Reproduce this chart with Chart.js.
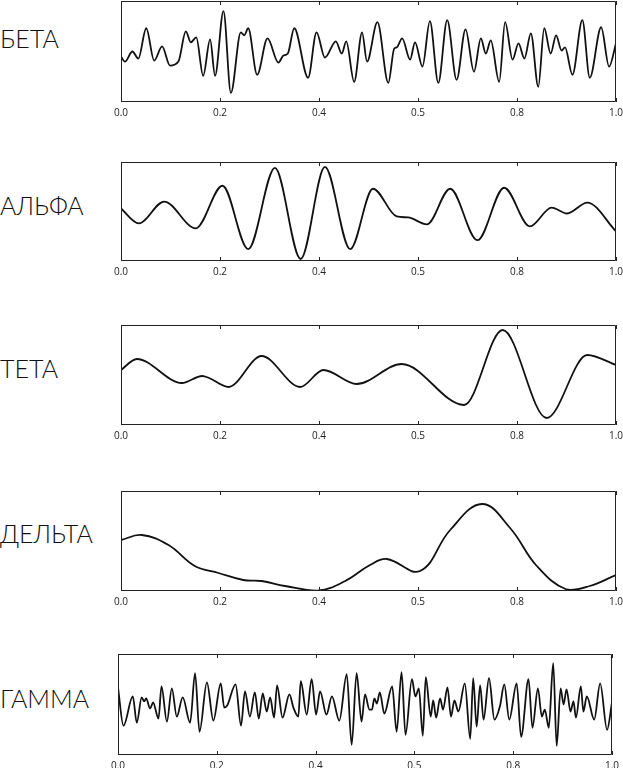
<!DOCTYPE html>
<html>
<head>
<meta charset="utf-8">
<script src="https://cdn.jsdelivr.net/npm/chart.js@4.4.1/dist/chart.umd.min.js"></script>
<style>
    html, body { margin: 0; padding: 0; background: #fff; overflow: hidden; }
    body { width: 623px; height: 768px; position: relative; }
    .label {
        position: absolute; left: 0;
        font-family: Lato, "Open Sans", sans-serif; font-weight: 300;
        font-size: 25px; line-height: 1; color: #111; white-space: nowrap;
    }
    .panel { position: absolute; left: 100px; width: 540px; }
</style>
</head>
<body>
<script>
const waveNames = ["БЕТА", "АЛЬФА", "ТЕТА", "ДЕЛЬТА", "ГАММА"];
const tickLabels = ["0.0", "0.2", "0.4", "0.5", "0.8", "1.0"];

// beta
const betaT = [0, 0.008, 0.023, 0.035, 0.051, 0.067, 0.083, 0.099, 0.116, 0.131, 0.141, 0.152, 0.166, 0.18, 0.19,
    0.207, 0.222, 0.242, 0.249, 0.257, 0.275, 0.296, 0.318, 0.328, 0.337, 0.35, 0.378, 0.395, 0.412, 0.434, 0.446,
    0.455, 0.471, 0.487, 0.497, 0.518, 0.54, 0.552, 0.557, 0.568, 0.584, 0.594, 0.609, 0.624, 0.641, 0.659, 0.678,
    0.696, 0.713, 0.727, 0.737, 0.747, 0.764, 0.776, 0.791, 0.803, 0.815, 0.828, 0.843, 0.855, 0.868, 0.879, 0.89,
    0.897, 0.912, 0.932, 0.947, 0.97, 0.986, 1];
const betaV = [45, 40, 50, 43, 73, 41, 55, 36, 40, 70, 59, 64, 26, 62, 26,
    90, 9, 69, 66, 73, 27, 63, 39, 46, 48, 73, 24, 69, 44, 60, 48,
    60, 20, 69, 40, 79, 19, 53, 54, 63, 42, 59, 35, 80, 19, 81, 22,
    72, 30, 63, 48, 61, 20, 79, 42, 58, 43, 68, 15, 73, 48, 66, 51,
    54, 27, 81, 24, 74, 35, 58];

// alpha
const alphaT = [0, 0.036, 0.087, 0.151, 0.205, 0.257, 0.311, 0.363, 0.412, 0.463, 0.509, 0.557, 0.58, 0.618,
    0.665, 0.72, 0.774, 0.826, 0.87, 0.901, 0.942, 1];
const alphaV = [53, 38, 60, 33, 76, 12, 94, 2, 95, 12, 73, 45, 44, 37,
    73, 21, 74, 35, 54, 48, 59, 30];

// theta
const thetaT = [0, 0.032, 0.123, 0.164, 0.178, 0.217, 0.284, 0.362, 0.409, 0.476, 0.567, 0.693, 0.771, 0.86,
    0.942, 1];
const thetaV = [55, 66, 42, 49, 47, 38, 69, 38, 55, 41, 61, 20, 95, 7,
    70, 60];

// delta
const deltaT = [0, 0.042, 0.096, 0.149, 0.197, 0.247, 0.284, 0.331, 0.399, 0.453, 0.503, 0.537, 0.604, 0.665,
    0.729, 0.786, 0.84, 0.9, 0.947, 1];
const deltaV = [51, 56, 46, 25, 18, 11, 10, 5, 0.5, 10, 26, 32, 20, 61,
    87, 63, 25, 1.5, 5, 16];

// gamma
const gammaT = [0, 0.011, 0.03, 0.038, 0.048, 0.053, 0.057, 0.065, 0.071, 0.082, 0.088, 0.099, 0.109, 0.119,
    0.131, 0.146, 0.156, 0.165, 0.18, 0.193, 0.208, 0.215, 0.221, 0.238, 0.249, 0.257, 0.267, 0.277, 0.285,
    0.293, 0.301, 0.308, 0.316, 0.322, 0.333, 0.347, 0.355, 0.365, 0.37, 0.382, 0.392, 0.401, 0.409, 0.422,
    0.433, 0.448, 0.463, 0.473, 0.483, 0.493, 0.5, 0.509, 0.514, 0.519, 0.524, 0.53, 0.539, 0.555, 0.564,
    0.574, 0.582, 0.595, 0.602, 0.609, 0.617, 0.623, 0.633, 0.638, 0.644, 0.652, 0.658, 0.667, 0.674, 0.681,
    0.689, 0.702, 0.713, 0.719, 0.726, 0.733, 0.74, 0.751, 0.762, 0.773, 0.782, 0.792, 0.807, 0.816, 0.831,
    0.839, 0.85, 0.858, 0.864, 0.872, 0.881, 0.888, 0.896, 0.902, 0.908, 0.916, 0.922, 0.927, 0.937, 0.942,
    0.949, 0.964, 0.976, 0.99, 1];
const gammaV = [67, 29, 58, 32, 57, 53, 56, 46, 52, 36, 68, 33, 66, 38,
    57, 32, 81, 23, 72, 34, 71, 47, 49, 70, 29, 63, 38, 62, 36,
    61, 43, 57, 37, 69, 37, 60, 47, 38, 73, 40, 75, 40, 63, 40,
    58, 34, 80, 10, 81, 33, 60, 45, 45, 56, 51, 62, 41, 68, 23,
    82, 20, 75, 58, 66, 19, 77, 38, 54, 37, 56, 45, 67, 38, 54,
    43, 71, 16, 76, 28, 69, 35, 76, 35, 48, 70, 35, 71, 18, 75,
    27, 66, 38, 45, 27, 91, 9, 66, 50, 65, 43, 53, 37, 68, 43,
    58, 35, 71, 25, 52];

const waves = [[betaT, betaV], [alphaT, alphaV], [thetaT, thetaV], [deltaT, deltaV], [gammaT, gammaV]];

// frame box per panel: top, bottom, left, right (px) and label baseline
const frames = [
    [1, 102, 121, 616, 48],
    [162, 261, 121, 616, 215],
    [325, 425, 121, 616, 378],
    [491, 591, 121, 616, 543],
    [654, 755, 118, 612, 708],
];

const framePlugin = {
    id: "frame",
    afterDraw(chart) {
        const { ctx, chartArea: a } = chart;
        const xs = chart.scales.x;
        ctx.save();
        ctx.strokeStyle = "#222";
        ctx.lineWidth = 1;
        ctx.beginPath();
        ctx.rect(Math.round(a.left) + 0.5, Math.round(a.top) + 0.5, Math.round(a.width) - 1, Math.round(a.height) - 1);
        xs.ticks.forEach((t) => {
            const x = Math.round(xs.getPixelForValue(t.value)) + 0.5;
            ctx.moveTo(x, a.top);
            ctx.lineTo(x, a.top + 4);
            ctx.moveTo(x, a.bottom);
            ctx.lineTo(x, a.bottom - 4);
        });
        ctx.stroke();
        ctx.restore();
    },
};

waves.forEach(([t, v], i) => {
    const [top, bottom, left, right, base] = frames[i];

    const label = document.createElement("div");
    label.className = "label";
    label.textContent = waveNames[i];
    label.style.top = base - 22 + "px";
    document.body.appendChild(label);

    const wrap = document.createElement("div");
    wrap.className = "panel";
    wrap.style.top = top - 1 + "px";
    wrap.style.height = bottom - top + 1 + 20 + "px";
    const canvas = document.createElement("canvas");
    wrap.appendChild(canvas);
    document.body.appendChild(wrap);

    // delta is sampled along its slopes, so a plain tension curve reads smoother there
    const smooth = i === 3 ? { tension: 0.4 } : { cubicInterpolationMode: "monotone" };

    new Chart(canvas.getContext("2d"), {
        type: "line",
        data: {
            datasets: [
                {
                    label: waveNames[i],
                    data: t.map((x, k) => ({ x: x, y: v[k] })),
                    borderColor: "#111",
                    borderWidth: 1.8,
                    pointRadius: 0,
                    fill: false,
                    ...smooth,
                },
            ],
        },
        options: {
            responsive: true,
            maintainAspectRatio: false,
            animation: false,
            layout: { padding: { left: left - 100, right: 640 - right, top: 1, bottom: 0 } },
            plugins: { legend: { display: false }, tooltip: { enabled: false } },
            scales: {
                x: {
                    type: "linear",
                    min: 0,
                    max: 1,
                    grid: { display: false, drawTicks: false },
                    border: { display: false },
                    afterFit: (scale) => { scale.height = 20; },
                    ticks: {
                        stepSize: 0.2,
                        autoSkip: false,
                        maxRotation: 0,
                        padding: 5,
                        color: "#222",
                        font: { family: "'Open Sans', sans-serif", size: 10 },
                        callback: (value, index) => tickLabels[index],
                    },
                },
                y: { display: false, min: 0, max: 100 },
            },
        },
        plugins: [framePlugin],
    });
});
</script>
</body>
</html>
